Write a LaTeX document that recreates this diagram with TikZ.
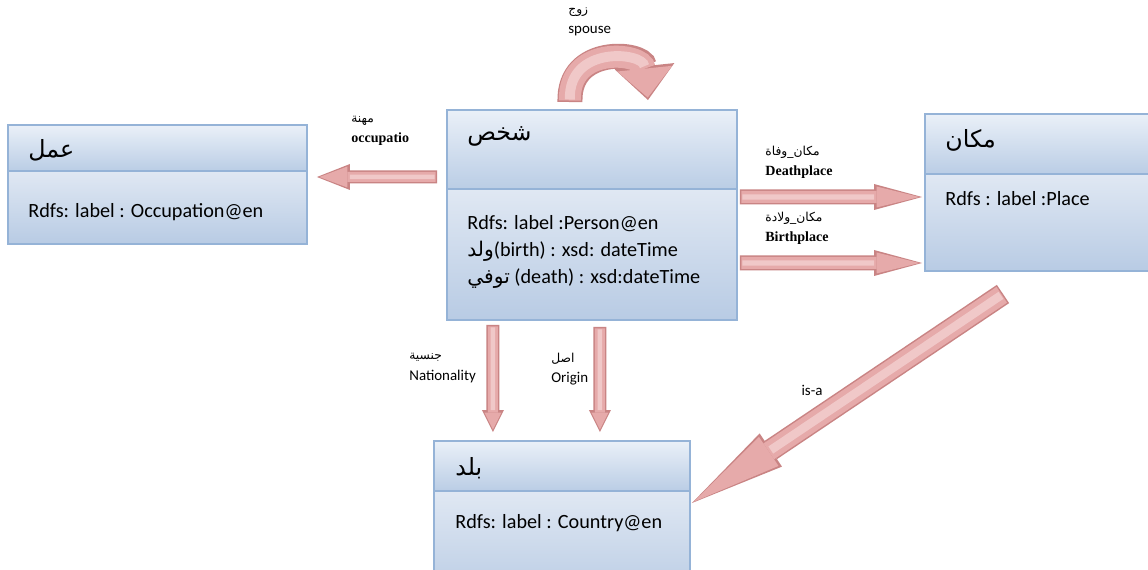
\documentclass[tikz,border=0pt]{standalone}
\usepackage{fontspec}
\setmainfont{Carlito}
\newfontfamily\arabicfont[Script=Arabic]{DejaVu Sans}
\newfontfamily\labserif{Liberation Serif}
\TeXXeTstate=1
\usetikzlibrary{positioning,calc,arrows.meta}
\tikzset{>=stealth}

\definecolor{boxline}{RGB}{149,179,215}
\definecolor{hdrtop}{RGB}{234,240,248}
\definecolor{hdrbot}{RGB}{186,205,229}
\definecolor{bodytop}{RGB}{224,232,243}
\definecolor{bodybot}{RGB}{184,203,228}
\definecolor{arrline}{RGB}{201,132,132}
\definecolor{arrfill}{RGB}{230,170,170}
\definecolor{arrlight}{RGB}{240,200,200}

\tikzset{
  hdr/.style={draw=boxline, line width=1.1pt, outer sep=0pt, anchor=north west,
    top color=hdrtop, bottom color=hdrbot},
  bodybox/.style={draw=boxline, line width=1.1pt, outer sep=0pt,
    top color=bodytop, bottom color=bodybot},
  title/.style={anchor=west, inner sep=0pt, font=\arabicfont\fontsize{13.5}{16}\selectfont},
  attr/.style={anchor=west, inner sep=0pt, align=left, font=\fontsize{11.5}{15.6}\selectfont},
  lab/.style={anchor=west, inner sep=0pt, align=left, font=\fontsize{8.5}{11.5}\selectfont},
  labs/.style={lab, font=\labserif\bfseries\fontsize{8}{11.5}\selectfont},
}
\newcommand{\ar}[1]{{\arabicfont\beginR #1\endR}}
\newcommand{\sar}[1]{{\arabicfont\mdseries\fontsize{7}{9}\selectfont\beginR #1\endR}}

% block arrow: body, head length, head width (px), start, rest of path
\newcommand{\fatlink}[5]{%
  \pgfmathsetmacro\fatbw{#1*0.02}%
  \pgfmathsetmacro\fathl{#2*0.02}%
  \pgfmathsetmacro\fathw{#3*0.02}%
  \pgfmathsetmacro\fatibw{(#1-3)*0.02}%
  \pgfmathsetmacro\fatihl{(#2-5)*0.02}%
  \pgfmathsetmacro\fatihw{(#3-5)*0.02}%
  \pgfmathsetmacro\fatsw{(#1-3)*0.02*0.45}%
  \draw[arrline, line width=\fatbw cm,
    -{Triangle[length=\fathl cm, width=\fathw cm, line width=0pt]}] #4 #5;
  \draw[arrfill, line width=\fatibw cm, shorten <=0.03cm, shorten >=0.05cm,
    -{Triangle[length=\fatihl cm, width=\fatihw cm, line width=0pt]}] #4 #5;
  \draw[arrlight, line width=\fatsw cm, shorten <=0.05cm, shorten >=\fathl cm] #4 #5;
}

\begin{document}
\begin{tikzpicture}[x=0.02cm, y=-0.02cm]
    \useasboundingbox (0,0) rectangle (1148,569);
    \fill[white] (0,0) rectangle (1148,569);

    \node[hdr, minimum width=5.98cm, minimum height=0.92cm] (occ) at (8,125) {};
    \node[bodybox, minimum width=5.98cm, minimum height=1.46cm, below=0pt of occ] (occbody) {};
    \node[hdr, minimum width=5.8cm, minimum height=1.58cm] (person) at (447,110) {};
    \node[bodybox, minimum width=5.8cm, minimum height=2.62cm, below=0pt of person] (personbody) {};
    \node[hdr, minimum width=4.8cm, minimum height=1.2cm] (place) at (925,114) {};
    \node[bodybox, minimum width=4.8cm, minimum height=1.94cm, below=0pt of place] (placebody) {};
    \node[hdr, minimum width=5.12cm, minimum height=1cm] (country) at (434,441) {};
    \node[bodybox, minimum width=5.12cm, minimum height=2.2cm, below=0pt of country] (countrybody) {};

    \node[title] (occtitle) at (28,150) {\beginR عمل\endR};
    \node[attr] (occattr) at (28,212) {Rdfs: label : Occupation@en};
    \node[title] (persontitle) at (467,136) {\beginR شخص\endR};
    \node[attr] (personattr) at (467,252) {Rdfs: label :Person@en\\
      \ar{ولد}(birth) : xsd: dateTime\\
      \ar{توفي} (death) : xsd:dateTime};
    \node[title] (placetitle) at (945,140) {\beginR مكان\endR};
    \node[attr] (placeattr) at (945,199) {Rdfs : label :Place};
    \node[title] (countrytitle) at (455,468) {\beginR بلد\endR};
    \node[attr] (countryattr) at (455,523) {Rdfs: label : Country@en};

    \fatlink{25}{34}{60}{($(person.north)+(-22,-8)$)}{.. controls +(-2,-57) and +(-5,-48) .. ($(person.north)+(56,-10)$)}
    \fatlink{13}{33}{26}{($(personbody.north west)+(-10,-12)$)}{-- ($(occbody.north east)+(10,6)$)}
    \fatlink{15}{48}{26}{($(personbody.north east)+(3,8)$)}{-- ($(placebody.north west)+(-3,23)$)}
    \fatlink{15}{48}{26}{($(personbody.north east)+(3,74)$)}{-- ($(placebody.north west)+(-3,89)$)}
    \fatlink{13}{22}{22}{($(personbody.south)+(-99,5)$)}{-- ($(country.north)+(-69,-9)$)}
    \fatlink{13}{22}{22}{($(personbody.south)+(8,7)$)}{-- ($(country.north)+(38,-9)$)}
    \fatlink{22}{95}{40}{($(placebody.south)+(-42,23)$)}{-- ($(countrybody.north east)+(2,12)$)}

    \node[lab] (spouselab) at (568,22) {\sar{زوج}\\spouse};
    \node[labs] (occlab) at (351,131) {\sar{مهنة}\\occupatio};
    \node[labs] (deathlab) at (765,162) {\sar{مكان\_وفاة}\\Deathplace};
    \node[labs] (birthlab) at (765,228) {\sar{مكان\_ولادة}\\Birthplace};
    \node[lab] (natlab) at (409,368) {\sar{جنسية}\\Nationality};
    \node[lab] (originlab) at (551,369) {\sar{اصل}\\Origin};
    \node[lab, anchor=center] (isalab) at (812,390) {is-a};
\end{tikzpicture}
\end{document}
